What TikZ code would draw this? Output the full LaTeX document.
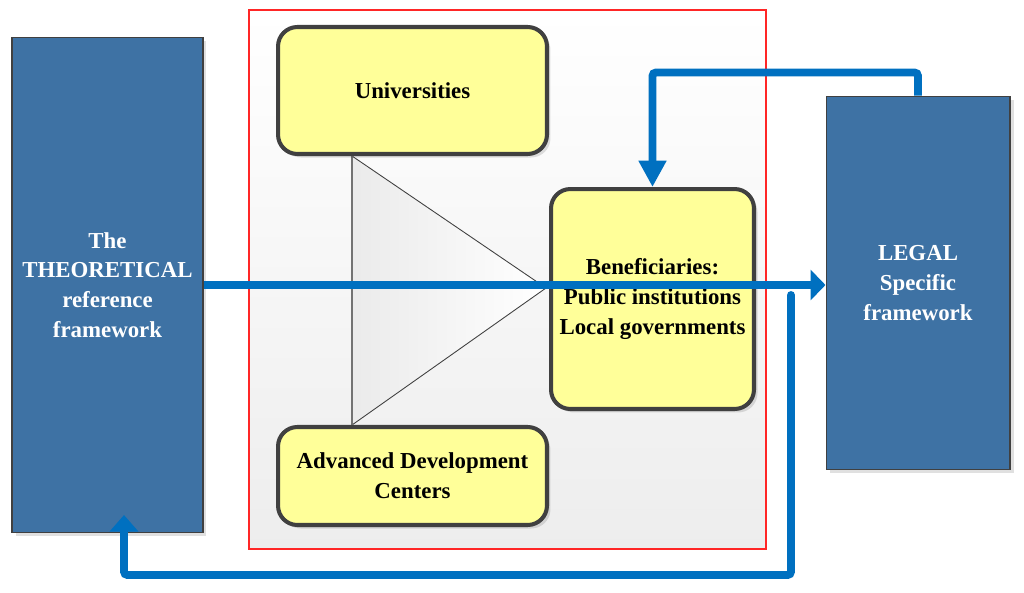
\documentclass[tikz,border=0pt]{standalone}
\usepackage{fontspec}
\setmainfont{Liberation Serif}
\usepackage{tikz}
\usetikzlibrary{arrows.meta, positioning, shadows}

\definecolor{panelblue}{RGB}{62,114,164}
\definecolor{actoryellow}{RGB}{255,255,153}
\definecolor{flowblue}{RGB}{0,112,192}
\definecolor{edgegray}{RGB}{64,64,64}

\begin{document}
\begin{tikzpicture}[
    x=0.02cm, y=-0.02cm,
    boxtext/.style={font=\bfseries\fontsize{13}{17}\selectfont, align=center, inner sep=0pt},
    panel/.style={boxtext, rectangle, draw=edgegray, line width=0.6pt, fill=panelblue, text=white,
        drop shadow={shadow xshift=2pt, shadow yshift=-2pt, fill=black, opacity=0.12}},
    actor/.style={boxtext, rectangle, rounded corners=11pt, draw=edgegray, line width=2.3pt, fill=actoryellow,
        drop shadow={shadow xshift=2pt, shadow yshift=-2pt, fill=black, opacity=0.12}},
    flow/.style={draw=flowblue, line width=4.5pt, rounded corners=2pt}
]
\useasboundingbox (0,0) rectangle (1024,592);

% cluster in the middle
\shade[top color=white, bottom color=black!7] (249,10) rectangle (766,549);
\draw[red!85, line width=0.6pt] (249,10) rectangle (766,549);

\coordinate (t1) at (352,156);
\coordinate (t2) at (352,425);
\coordinate (t3) at (546,288);
\shade[left color=black!8, right color=white] (t1) -- (t2) -- (t3) -- cycle;
\draw[edgegray, line width=0.5pt] (t1) -- (t3) -- (t2);
\draw[black!55, line width=0.6pt] (t1) -- (t2);

\node [panel, minimum width=3.82cm, minimum height=9.92cm] (theory) at (107.5,285)
    {The\\THEORETICAL\\reference\\framework};
\node [panel, minimum width=3.68cm, minimum height=7.48cm] (legal) at (918,283)
    {LEGAL\\Specific\\framework};

\node [actor, minimum width=5.38cm, minimum height=2.54cm] (univ) at (412.5,90.5) {Universities};
\node [actor, minimum width=4.06cm, minimum height=4.40cm] (benef) at (652.5,299)
    {Beneficiaries:\\Public institutions\\Local governments};
\node [actor, minimum width=5.38cm, minimum height=1.96cm] (adc) at (412.5,476)
    {Advanced Development\\Centers};

\coordinate (back) at (791,295);
\coordinate (theoryin) at (124,515);

\draw[flow, line cap=round, -{Triangle[length=9.5pt, width=16pt]}] (back) |- (124,575) -- (theoryin);
\draw[flow, -{Triangle[length=8.5pt, width=17pt]}] (theory.east) -- (legal.west |- theory.east);
\draw[flow, -{Triangle[length=15pt, width=15pt]}] (legal.north) -- ++(0,-23) -| (benef.north);
\end{tikzpicture}
\end{document}
